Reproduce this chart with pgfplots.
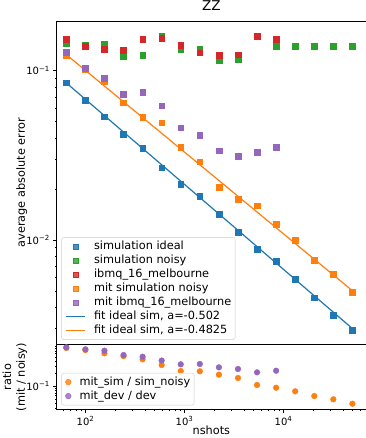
\documentclass[border=0pt]{standalone}
\usepackage{pgfplots}
\usepackage{pgfplotstable}
\pgfplotsset{compat=1.18}
\usepackage{fontspec}
\setmainfont{DejaVu Sans}
\definecolor{tblue}{HTML}{1F77B4}
\definecolor{torange}{HTML}{FF7F0E}
\definecolor{tgreen}{HTML}{2CA02C}
\definecolor{tred}{HTML}{D62728}
\definecolor{tpurple}{HTML}{9467BD}
\newcommand{\fs}{\fontsize{11.3}{13.6}\selectfont}
\newcommand{\ts}{\fontsize{10}{12}\selectfont}
\newcommand{\sx}[1]{10\textsuperscript{#1}}

\pgfplotstableread{
n ideal noisy mitsim ratsim
64 0.0849 0.1451 0.1226 0.817
99.73 0.0671 0.1418 0.1019 0.731
155.41 0.0535 0.1438 0.0861 0.611
242.18 0.0423 0.1210 0.0647 0.526
377.39 0.0348 0.1238 0.0531 0.440
588.10 0.0267 0.1609 0.0493 0.321
916.45 0.0213 0.1338 0.0352 0.231
1428.13 0.0182 0.1338 0.0290 0.228
2225.48 0.01418 0.1146 0.0206 0.189
3468.01 0.01110 0.1173 0.01747 0.158
5404.27 0.00881 0.1588 0.01594 0.1074
8421.59 0.00752 0.1399 0.01238 0.0926
13123.6 0.00586 0.1399 0.0100 0.0760
20450.9 0.00456 0.1399 0.00762 0.0587
31869.2 0.00361 0.1399 0.00630 0.0490
49662.9 0.00294 0.1399 0.00491 0.0385
}\tabsim

\pgfplotstableread{
n dev mitdev ratdev
64 0.1539 0.1290 0.849
99.73 0.1399 0.1033 0.760
155.41 0.1338 0.0902 0.705
242.18 0.1325 0.0725 0.556
377.39 0.1533 0.0748 0.507
588.10 0.1554 0.0621 0.411
916.45 0.1418 0.0461 0.334
1428.13 0.1277 0.0417 0.340
2225.48 0.1238 0.0337 0.283
3468.01 0.1243 0.0313 0.258
5404.27 0.1603 0.0330 0.215
8421.59 0.1533 0.0353 0.235
}\tabdev

\pgfplotsset{
  legend image code/.code={\draw[mark repeat=2,mark phase=2,#1] plot coordinates {(0pt,0pt) (9.5pt,0pt) (19pt,0pt)};},
}

\begin{document}
\begin{tikzpicture}
\begin{axis}[name=main, at={(0,0)}, anchor=south west,
  scale only axis, width=309.3pt, height=323.5pt,
  xmode=log, ymode=log, xmin=51.18, xmax=68129,
  ymin=0.002415, ymax=0.1966,
  tick pos=left, tick align=outside,
  major tick length=3.3pt, minor tick length=1.9pt,
  every tick/.style={black, line width=0.76pt},
  every minor tick/.append style={line width=0.57pt},
  axis line style={line width=0.76pt},
  tick label style={font=\ts, inner sep=0pt},
  yticklabel style={xshift=-3.3pt},
  label style={font=\fs},
  xtick=\empty, minor xtick={},
  ytick={0.01,0.1}, yticklabels={\sx{−2},\sx{−1}},
  minor ytick={0.003,0.004,0.005,0.006,0.007,0.008,0.009,0.02,0.03,0.04,0.05,0.06,0.07,0.08,0.09},
  title={ZZ}, title style={at={(axis description cs:0.5,1)}, anchor=base, yshift=4.5pt, inner sep=0pt, font=\fontsize{13.5}{16}\selectfont},
  ylabel={average absolute error},
  ylabel style={at={(axis description cs:-0.095,0.5)}, anchor=south, inner sep=0pt},
  legend cell align=left,
  legend style={font=\fs, draw=black!20, fill=white, fill opacity=0.8, text opacity=1,
    rounded corners=2pt, at={(axis description cs:0,0)}, anchor=south west,
    xshift=4.75pt, yshift=4.75pt, inner xsep=3.8pt, inner ysep=3.4pt, row sep=2.8pt,
    nodes={inner sep=0pt, text height=8.5pt, text depth=2.7pt},
    /tikz/every odd column/.style={column sep=8.4pt}},
]
\addplot[only marks, mark=square*, color=tblue, mark size=2.85pt] table[x=n,y=ideal]{\tabsim};
\addlegendentry{simulation ideal}
\addplot[only marks, mark=square*, color=tgreen, mark size=2.85pt] table[x=n,y=noisy]{\tabsim};
\addlegendentry{simulation noisy}
\addplot[only marks, mark=square*, color=tred, mark size=2.85pt] table[x=n,y=dev]{\tabdev};
\addlegendentry{ibmq\_16\_melbourne}
\addplot[only marks, mark=square*, color=torange, mark size=2.85pt] table[x=n,y=mitsim]{\tabsim};
\addlegendentry{mit simulation noisy}
\addplot[only marks, mark=square*, color=tpurple, mark size=2.85pt] table[x=n,y=mitdev]{\tabdev};
\addlegendentry{mit ibmq\_16\_melbourne}
\addplot[tblue, line width=1.2pt, mark=none] coordinates {(64,0.0847) (49662.9,0.00300)};
\addlegendentry{fit ideal sim, a=-0.502}
\addplot[torange, line width=1.2pt, mark=none] coordinates {(64,0.1245) (49662.9,0.00502)};
\addlegendentry{fit ideal sim, a=-0.4825\hspace{3pt}}
\end{axis}

\begin{axis}[at={(main.south west)}, anchor=north west,
  scale only axis, width=309.3pt, height=65pt,
  xmode=log, ymode=log, xmin=51.18, xmax=68129,
  ymin=0.02805, ymax=0.99,
  tick pos=left, tick align=outside,
  major tick length=3.3pt, minor tick length=1.9pt,
  every tick/.style={black, line width=0.76pt},
  every minor tick/.append style={line width=0.57pt},
  axis line style={line width=0.76pt},
  tick label style={font=\ts, inner sep=0pt},
  yticklabel style={xshift=-3.3pt},
  xticklabel style={yshift=-3.3pt},
  label style={font=\fs},
  xtick={100,1000,10000},
  minor xtick={60,70,80,90,200,300,400,500,600,700,800,900,2000,3000,4000,5000,6000,7000,8000,9000,20000,30000,40000,50000,60000},
  xticklabels={\sx{2},\sx{3},\sx{4}},
  ytick={0.1}, yticklabels={\sx{−1}},
  minor ytick={0.03,0.04,0.05,0.06,0.07,0.08,0.09,0.2,0.3,0.4,0.5,0.6,0.7,0.8,0.9},
  xlabel={nshots},
  xlabel style={at={(axis description cs:0.5,-0.246)}, anchor=north, inner sep=0pt},
  ylabel={ratio\\(mit / noisy)},
  ylabel style={at={(axis description cs:-0.095,0.5)}, anchor=south, inner sep=0pt, align=center},
  legend cell align=left,
  legend style={font=\fs, draw=black!20, fill=white, fill opacity=0.8, text opacity=1,
    rounded corners=2pt, at={(axis description cs:0,0)}, anchor=south west,
    xshift=4.75pt, yshift=4.2pt, inner xsep=3.8pt, inner ysep=3.4pt, row sep=2.8pt,
    nodes={inner sep=0pt, text height=8.5pt, text depth=2.7pt},
    /tikz/every odd column/.style={column sep=8.4pt}},
]
\addplot[only marks, mark=*, color=torange, mark size=2.85pt] table[x=n,y=ratsim]{\tabsim};
\addlegendentry{mit\_sim / sim\_noisy}
\addplot[only marks, mark=*, color=tpurple, mark size=2.85pt] table[x=n,y=ratdev]{\tabdev};
\addlegendentry{mit\_dev / dev}
\end{axis}
\pgfresetboundingbox
\path (-56.7pt,-93.5pt) rectangle (308.3pt,344.5pt);
\end{tikzpicture}
\end{document}
